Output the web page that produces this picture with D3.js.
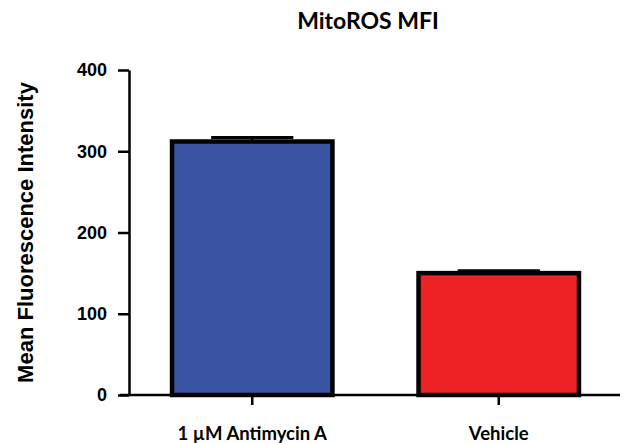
<!DOCTYPE html>
<html>
<head>
<meta charset="utf-8">
<script src="https://cdn.jsdelivr.net/npm/d3@7"></script>
<style>
  body { margin: 0; background: #fff; }
  svg { display: block; }
  .tick-label { font-family: "Liberation Sans", Arial, sans-serif; font-weight: bold; }
</style>
</head>
<body>
<svg id="chart" width="625" height="443"></svg>
<script>
const categories = ['1 \u00b5M Antimycin A', 'Vehicle'];
const means = [312, 150];
const errors = [5, 3];
const colors = ['#3a55a4', '#ee2124'];
const yTicks = [0, 100, 200, 300, 400];

const title = 'MitoROS MFI';
const yLabel = 'Mean Fluorescence Intensity';

const data = categories.map((c, i) => ({ name: c, mean: means[i], err: errors[i], color: colors[i] }));

const width = 625, height = 443;
const margin = { left: 129, right: 3, top: 70, bottom: 48 };

const svg = d3.select('#chart');

const xScale = d3.scaleBand()
  .domain(categories)
  .range([margin.left, width - margin.right])
  .paddingInner(0.333)
  .paddingOuter(0.1665);

const yScale = d3.scaleLinear()
  .domain([0, 400])
  .range([height - margin.bottom, margin.top]);

// bars
svg.append('g')
  .selectAll('rect')
  .data(data)
  .enter().append('rect')
    .attr('x', d => xScale(d.name) + 2)
    .attr('y', d => yScale(d.mean))
    .attr('width', xScale.bandwidth() - 4)
    .attr('height', d => yScale(0) - yScale(d.mean))
    .attr('fill', d => d.color)
    .attr('stroke', '#000')
    .attr('stroke-width', 4.5);

// error bars (upper only)
const errG = svg.append('g');
errG.selectAll('.err-v')
  .data(data)
  .enter().append('line')
    .attr('x1', d => xScale(d.name) + xScale.bandwidth() / 2)
    .attr('x2', d => xScale(d.name) + xScale.bandwidth() / 2)
    .attr('y1', d => yScale(d.mean))
    .attr('y2', d => yScale(d.mean + d.err))
    .attr('stroke', '#000')
    .attr('stroke-width', 2.5);
errG.selectAll('.err-cap')
  .data(data)
  .enter().append('line')
    .attr('x1', d => xScale(d.name) + xScale.bandwidth() / 4)
    .attr('x2', d => xScale(d.name) + xScale.bandwidth() * 3 / 4)
    .attr('y1', d => yScale(d.mean + d.err))
    .attr('y2', d => yScale(d.mean + d.err))
    .attr('stroke', '#000')
    .attr('stroke-width', 3);

// y axis
const yAxis = d3.axisLeft(yScale)
  .tickValues(yTicks)
  .tickSize(11)
  .tickPadding(11)
  .tickSizeOuter(0);

const yAxisG = svg.append('g')
  .attr('transform', `translate(${margin.left},0)`)
  .call(yAxis);
yAxisG.select('.domain').attr('stroke', '#000').attr('stroke-width', 2.5);
yAxisG.selectAll('.tick line').attr('stroke', '#000').attr('stroke-width', 2.5);
yAxisG.selectAll('.tick text')
  .attr('class', 'tick-label')
  .style('font-size', '18px')
  .attr('fill', '#000');

// x axis
const xAxis = d3.axisBottom(xScale)
  .tickSize(10)
  .tickPadding(22)
  .tickSizeOuter(0);

const xAxisG = svg.append('g')
  .attr('transform', `translate(0,${yScale(0)})`)
  .call(xAxis);
xAxisG.select('.domain')
  .attr('d', `M${margin.left - 9},0H${width - 5}`)
  .attr('stroke', '#000').attr('stroke-width', 2.5);
xAxisG.selectAll('.tick line').attr('stroke', '#000').attr('stroke-width', 2.5);
xAxisG.selectAll('.tick text')
  .style('font-family', 'Lato, sans-serif')
  .style('font-weight', 'bold')
  .style('font-size', '18.5px')
  .attr('fill', '#000');

// title
svg.append('text')
  .attr('x', 368)
  .attr('y', 29)
  .attr('text-anchor', 'middle')
  .style('font-family', 'Lato, sans-serif')
  .style('font-weight', 'bold')
  .style('font-size', '23px')
  .text(title);

// y label
svg.append('text')
  .attr('transform', `translate(33,${(margin.top + yScale(0)) / 2}) rotate(-90)`)
  .attr('text-anchor', 'middle')
  .style('font-family', '"Liberation Sans", Arial, sans-serif')
  .style('font-weight', 'bold')
  .style('font-size', '22px')
  .text(yLabel);
</script>
</body>
</html>
